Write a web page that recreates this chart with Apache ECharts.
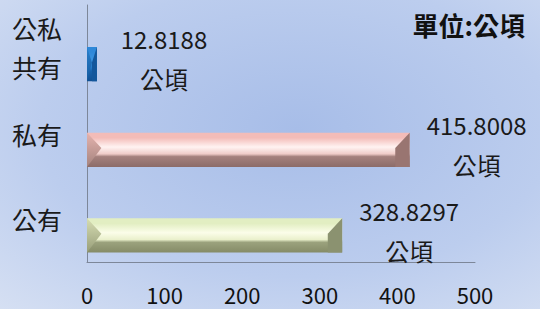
<!DOCTYPE html>
<html>
<head>
<meta charset="utf-8">
<script src="https://cdn.jsdelivr.net/npm/echarts@6/dist/echarts.min.js"></script>
<style>
  html, body { margin: 0; padding: 0; }
  #main { width: 540px; height: 309px; }
</style>
</head>
<body>
<div id="main"></div>
<script>
// 土地權屬面積 (單位:公頃)
var categories = ['公有', '私有', '公私\n共有'];
var areas = [328.8297, 415.8008, 12.8188];
var unitText = '公頃';
var xTicks = { min: 0, max: 500, interval: 100 };

// 每條長條的立體配色
var palettes = [
  { top: '#e2eec2', hi: '#fbfde9', mid: '#eaf0cc', dark1: '#9ba27d', dark2: '#858b67', left1: '#d6ddb2', left2: '#979d79', right: '#8b9270' },
  { top: '#f3bcb8', hi: '#fff3f2', mid: '#f0ccc8', dark1: '#a5817d', dark2: '#8c6c69', left1: '#e5b3ae', left2: '#a4837e', right: '#997571' },
  { top: '#2f88d8', hi: '#3b95e2', mid: '#2177c6', dark1: '#1762ab', dark2: '#115093', left1: '#2a80cc', left2: '#155a9e', right: '#13579c' }
];

var font = '"Noto Sans CJK TC", "Noto Sans", sans-serif';

function renderItem(params, api) {
  var v = api.value(0);
  var c = api.value(1);
  var p0 = api.coord([0, c]);
  var p1 = api.coord([v, c]);
  var band = api.size([0, 1])[1];
  var h = band * 0.4;
  var y0 = p0[1] + band * 0.19 - h / 2;
  var y1 = y0 + h;
  var x0 = p0[0], x1 = p1[0];
  var w = x1 - x0;
  var b = Math.min(h * 0.42, w / 2);
  var pal = palettes[params.dataIndex];
  var ym = y0 + h * 0.45;

  return {
    type: 'group',
    children: [
      {
        type: 'rect',
        shape: { x: x0, y: y0, width: w, height: h },
        style: {
          fill: new echarts.graphic.LinearGradient(0, 0, 0, 1, [
            { offset: 0, color: pal.top },
            { offset: 0.15, color: pal.top },
            { offset: 0.42, color: pal.hi },
            { offset: 0.62, color: pal.mid },
            { offset: 0.7, color: pal.dark1 },
            { offset: 1, color: pal.dark2 }
          ])
        }
      },
      {
        type: 'polygon',
        shape: { points: [[x0, y0], [x0 + b, ym], [x0, y1]] },
        style: {
          fill: new echarts.graphic.LinearGradient(0, 0, 0, 1, [
            { offset: 0, color: pal.left1 },
            { offset: 1, color: pal.left2 }
          ])
        }
      },
      {
        type: 'polygon',
        shape: { points: [[x1, y0], [x1 - b, ym], [x1 - b, y1], [x1, y1]] },
        style: { fill: pal.right }
      },
      {
        type: 'text',
        style: {
          x: x1 + 67,
          y: y0 - 28,
          text: v + '\n' + unitText,
          align: 'center',
          verticalAlign: 'top',
          fontSize: 24,
          lineHeight: 40,
          fontFamily: font,
          fill: '#1a1a1a'
        }
      }
    ]
  };
}

var chart = echarts.init(document.getElementById('main'), null, { renderer: 'svg' });

var option = {
  animation: false,
  backgroundColor: {
    type: 'radial', x: 0.55, y: 0.42, r: 0.95,
    colorStops: [
      { offset: 0, color: '#a7bde8' },
      { offset: 0.5, color: '#bccdee' },
      { offset: 1, color: '#e1e8f5' }
    ]
  },
  title: {
    text: '單位:' + unitText,
    right: 10,
    top: 6,
    textStyle: { fontSize: 26, fontWeight: 'bold', fontFamily: font, color: '#111' }
  },
  grid: { left: 87, right: 65, top: 5, bottom: 47 },
  xAxis: {
    type: 'value',
    min: xTicks.min,
    max: xTicks.max,
    interval: xTicks.interval,
    splitLine: { show: false },
    axisTick: { show: false },
    axisLine: { show: true, lineStyle: { color: '#7d8799', width: 1 } },
    axisLabel: { margin: 22, fontSize: 22, lineHeight: 20, fontFamily: font, color: '#111' }
  },
  yAxis: {
    type: 'category',
    data: categories,
    axisTick: { show: false },
    axisLine: { show: true, lineStyle: { color: '#7d8799', width: 1 } },
    axisLabel: { margin: 25, fontSize: 25, lineHeight: 39, fontFamily: font, color: '#1a1a1a' }
  },
  series: [{
    type: 'custom',
    renderItem: renderItem,
    encode: { x: 0, y: 1 },
    data: areas.map(function (v, i) { return [v, i]; })
  }]
};

chart.setOption(option);
</script>
</body>
</html>
